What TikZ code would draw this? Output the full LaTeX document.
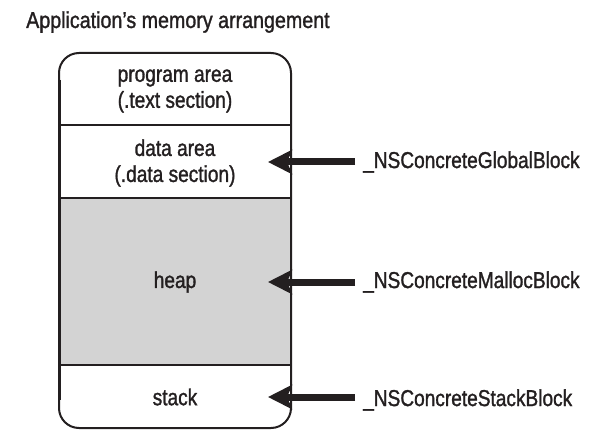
\documentclass[tikz,border=0pt]{standalone}
\usepackage{fontspec}
\setmainfont[FakeStretch=0.83,FakeBold=1.3]{Liberation Sans}
\newfontfamily\titlefont[FakeStretch=0.855,FakeBold=1.3]{Liberation Sans}
\usetikzlibrary{arrows.meta}
\definecolor{ink}{HTML}{231F20}
\definecolor{heapgray}{HTML}{D3D3D3}
\tikzset{
  lbl/.style={text=ink, font=\fontsize{23}{26}\selectfont, align=center, inner sep=0pt},
  blk/.style={text=ink, font=\fontsize{23}{26}\selectfont, anchor=west, inner sep=0pt},
  ptr/.style={draw=ink, line width=7pt, -{Stealth[length=24pt,width=24pt,inset=5pt]}},
  border/.style={draw=ink, line width=2pt},
}
\begin{document}
\begin{tikzpicture}[x=1pt,y=-1pt]
\useasboundingbox (0,0) rectangle (604,438);
% title
\node[blk, anchor=base west, font=\titlefont\fontsize{23}{26}\selectfont] (title) at (26,28) {Application’s memory arrangement};
% heap fill
\fill[heapgray] (59,198) rectangle (291,365);
% outer box
\draw[border, rounded corners=20pt] (59,53) rectangle (291,428);
\draw[draw=ink, line width=3pt] (59.5,80) -- (59.5,400);
% dividers
\draw[draw=ink, line width=2pt] (59,125.5) -- (291,125.5);
\draw[draw=ink, line width=2.5pt] (59,198) -- (291,198);
\draw[draw=ink, line width=2.5pt] (59,365) -- (291,365);
% section texts
\node[lbl] (prog) at (175,91) {program area\\(.text section)};
\node[lbl] (data) at (175,163) {data area\\(.data section)};
\node[lbl] (heap) at (175,282) {heap};
\node[lbl] (stack) at (175,397) {stack};
% block labels
\node[blk] (gb) at (363,162) {\_NSConcreteGlobalBlock};
\node[blk] (mb) at (363,282) {\_NSConcreteMallocBlock};
\node[blk] (sb) at (363,400) {\_NSConcreteStackBlock};
% arrow tips
\coordinate (gt) at (268,162);
\coordinate (mt) at (268,282);
\coordinate (st) at (268,397);
\draw[ptr] (355,162) -- (gt);
\draw[ptr] (355,282) -- (mt);
\draw[ptr] (355,397) -- (st);
\end{tikzpicture}
\end{document}
